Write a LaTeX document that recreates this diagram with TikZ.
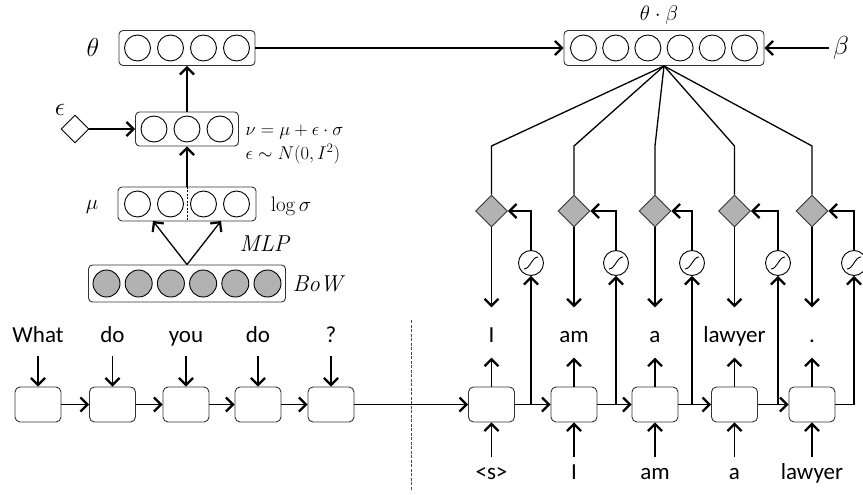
\documentclass[tikz,border=0pt]{standalone}
\usepackage{fix-cm}
\usepackage{fontspec}
\newfontfamily\wordfont{Carlito}
\usetikzlibrary{arrows.meta,shapes.geometric}
\begin{document}
\begin{tikzpicture}[x=1pt,y=-1pt,
  line width=1.3pt,
  arr/.style={-{Straight Barb[length=7pt,width=14pt,line width=2.2pt]}},
  vbox/.style={draw=black!80, rounded corners=4pt, line width=0.9pt, minimum height=35pt, inner sep=0pt},
  cell/.style={circle, draw, line width=0.9pt, minimum size=26pt, inner sep=0pt},
  gcell/.style={cell, fill=black!30, minimum size=27pt},
  rbox/.style={draw=black!80, rounded corners=5pt, line width=0.9pt, minimum width=46pt, minimum height=35pt, inner sep=0pt},
  word/.style={font=\wordfont\fontsize{23}{26}\selectfont, inner sep=0pt, text height=15pt, text depth=4pt, anchor=base},
  mlab/.style={font=\fontsize{26}{30}\selectfont, inner sep=0pt},
  slab/.style={font=\fontsize{21}{25}\selectfont, inner sep=0pt},
  ilab/.style={font=\fontsize{23}{27}\selectfont, inner sep=0pt},
  flab/.style={font=\fontsize{18.5}{21}\selectfont, inner sep=0pt, anchor=west},
  gdia/.style={diamond, draw=black!80, fill=black!30, line width=0.9pt, minimum size=32pt, inner sep=0pt, aspect=1},
  wdia/.style={diamond, draw, line width=0.9pt, minimum size=28pt, inner sep=0pt, aspect=1},
  sig/.style={circle, draw, line width=0.9pt, minimum size=25pt, inner sep=0pt},
]
\useasboundingbox (0,0) rectangle (863,495);

% theta vector
\node[vbox, minimum width=136pt] (thbox) at (187,48) {};
\foreach \i/\x in {1/137.5,2/170.5,3/203.5,4/236.5} \node[cell] (th\i) at (\x,48) {};
\node[mlab] (thl) at (93,47) {$\theta$};

% nu vector
\node[vbox, minimum width=103pt, minimum height=34pt] (nubox) at (187,129) {};
\foreach \i/\x in {1/154,2/187,3/220} \node[cell] (nu\i) at (\x,129) {};
\node[wdia] (epsd) at (75,129) {};
\node[mlab] (epsl) at (60,110) {$\epsilon$};
\draw[arr] (epsd.east) -- (nubox.west);
\draw[arr] (nubox.north) -- (thbox.south);
\node[flab] (f1) at (245,132) {$\nu=\mu+\epsilon\cdot\sigma$};
\node[flab] (f2) at (245,154) {$\epsilon\sim N(0,I^2)$};

% mu / log sigma vector
\node[vbox, minimum width=138pt, minimum height=34pt] (mubox) at (187,204) {};
\foreach \i/\x in {1/137.5,2/170.5,3/203.5,4/236.5} \node[cell] (mu\i) at (\x,204) {};
\draw[dashed, line width=0.8pt, dash pattern=on 2pt off 1.5pt] (mubox.north) -- (mubox.south);
\draw[arr] (mubox.north) -- (nubox.south);
\node[slab] (mul) at (92,207) {$\mu$};
\node[slab] (lsl) at (291,206) {$\log\sigma$};

% BoW
\node[vbox, minimum width=197pt, minimum height=37pt] (bow) at (187,283.5) {};
\foreach \i/\x in {1/106.5,2/138.7,3/170.9,4/203.1,5/235.3,6/267.5} \node[gcell] (b\i) at (\x,283.5) {};
\coordinate (mlpL) at (153,221);
\coordinate (mlpR) at (221,221);
\draw[arr] (bow.north) -- (mlpL);
\draw[arr] (bow.north) -- (mlpR);
\node[ilab] (mlp) at (265,244) {\textit{MLP}};
\node[ilab] (bowl) at (319,284) {\textit{BoW}};

% theta . beta vector
\node[vbox, minimum width=200pt] (tb) at (664,48) {};
\foreach \i/\x in {1/583.5,2/615.7,3/647.9,4/680.1,5/712.3,6/744.5} \node[cell] (tb\i) at (\x,48) {};
\node[font=\fontsize{21}{25}\selectfont, inner sep=0pt, anchor=base] (tbl) at (659,21) {$\theta\cdot\beta$};
\node[mlab] (betal) at (841,48) {$\beta$};
\draw[arr] (thbox.east) -- (tb.west);
\draw[arr, shorten <=3pt] (betal.west) -- (tb.east);

% encoder
\foreach \i/\x/\w in {1/38/What,2/112.5/do,3/186/you,4/258/do,5/331/?} {
  \node[rbox] (e\i) at (\x,404.5) {};
  \node[word] (ew\i) at (\x,342) {\w};
  \draw[arr, shorten <=9pt] (ew\i.south) -- (e\i.north);
}
\foreach \i/\j in {1/2,2/3,3/4,4/5} \draw[arr] (e\i.east) -- (e\j.west);

% decoder
\foreach \i/\x/\s/\o/\n in {1/491.5/531/I/{<s>},2/574/616/am/I,3/655/692/a/am,4/734.5/778/lawyer/a,5/812/854/./lawyer} {
  \node[rbox] (d\i) at (\x,404.5) {};
  \node[word] (ow\i) at (\x,342) {\o};
  \node[word] (iw\i) at (\x,479) {\n};
  \node[gdia] (gd\i) at (\x,211) {};
  \node[sig] (s\i) at (\s,263) {};
  \draw[line width=0.9pt] ([xshift=-7pt,yshift=-6pt]s\i.center) .. controls ([xshift=-1pt,yshift=-6pt]s\i.center) and ([xshift=1pt,yshift=6pt]s\i.center) .. ([xshift=7pt,yshift=6pt]s\i.center);
  \coordinate (j\i) at (\s,404.5);
  \coordinate (bend\i) at (\x,146);
  \draw[arr, shorten >=11pt] (d\i.north) -- (ow\i.south);
  \draw[arr, shorten <=6pt] (iw\i.north) -- (d\i.south);
  \draw[arr, shorten >=19pt] (gd\i.south) -- (ow\i.north);
  \draw (tb.south) -- (bend\i) -- (gd\i.north);
  \draw[arr] (j\i) -- (s\i.south);
  \draw[arr] (s\i.north) |- (gd\i.east);
}
\foreach \i/\j in {1/2,2/3,3/4,4/5} \draw[arr] (d\i.east) -- (d\j.west);
\draw (d5.east) -- (j5);
\draw[arr] (e5.east) -- (d1.west);

% divider
\coordinate (dv1) at (411,320);
\coordinate (dv2) at (411,490);
\draw[line width=1pt, black!70, dash pattern=on 3pt off 1.5pt] (dv1) -- (dv2);
\end{tikzpicture}
\end{document}
